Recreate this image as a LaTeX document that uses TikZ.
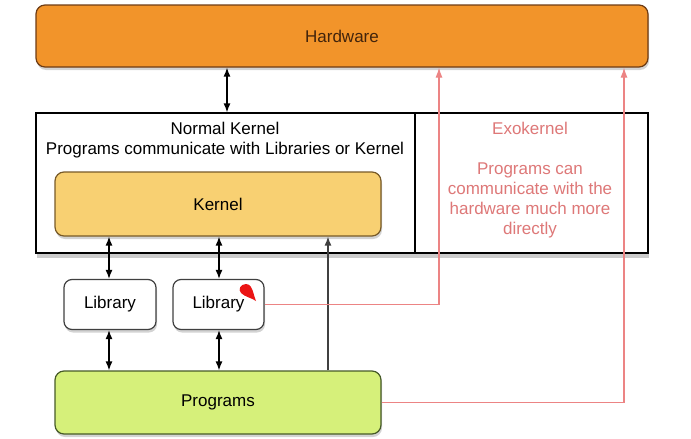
\documentclass[tikz,border=0pt]{standalone}
\usepackage{fontspec}
\setmainfont{Liberation Sans}
\usetikzlibrary{arrows.meta,shadows}
\definecolor{hwfill}{RGB}{242,148,42}
\definecolor{hwline}{RGB}{110,60,20}
\definecolor{kfill}{RGB}{248,208,114}
\definecolor{kline}{RGB}{120,90,40}
\definecolor{pfill}{RGB}{214,240,122}
\definecolor{pline}{RGB}{70,90,40}
\definecolor{exo}{RGB}{236,132,132}
\definecolor{exotext}{RGB}{222,120,120}
\definecolor{blob}{RGB}{235,20,20}
\begin{document}
\begin{tikzpicture}[x=1pt,y=-1pt,
  font=\fontsize{17}{20}\selectfont,
  box/.style={draw,line width=1.2pt,rounded corners=9pt,
    drop shadow={opacity=0.35,shadow xshift=1pt,shadow yshift=-3pt}},
  dbl/.style={{Latex[length=9pt,width=7pt]}-{Latex[length=9pt,width=7pt]},line width=1.3pt},
  sgl/.style={-{Latex[length=9pt,width=7pt]},line width=1.3pt,draw=black!75},
  exoarrow/.style={-{Latex[length=10pt,width=7pt]},draw=exo,line width=1.1pt}]
\useasboundingbox (0,0) rectangle (691,439);
% big box
\node[draw,line width=1.2pt,minimum width=612pt,minimum height=140pt,fill=white,
  drop shadow={opacity=0.4,shadow xshift=1pt,shadow yshift=-5pt}] (big) at (342,183) {};
\coordinate (dtop) at (415,113);
\coordinate (dbot) at (415,253);
\draw[line width=1.2pt] (dtop) -- (dbot);
\node[align=center] (nk) at (225,140) {Normal Kernel\\Programs communicate with Libraries or Kernel};
\node[align=center,text=exotext] (ex) at (530,180) {Exokernel\\[20pt]Programs can\\communicate with the\\hardware much more\\directly};
% hardware
\node[box,fill=hwfill,draw=hwline,minimum width=612pt,minimum height=62pt] (hw) at (342,36) {\textcolor{hwline!60!black}{Hardware}};
% kernel
\node[box,fill=kfill,draw=kline,minimum width=326pt,minimum height=64pt] (k) at (218,204) {Kernel};
% libraries
\node[box,fill=white,draw=black!75,rounded corners=8pt,minimum width=92pt,minimum height=50pt] (l1) at (110,304.5) {Library};
\node[box,fill=white,draw=black!75,rounded corners=8pt,minimum width=91pt,minimum height=50pt] (l2) at (218.5,304.5) {Library};
% programs
\node[box,fill=pfill,draw=pline,minimum width=326pt,minimum height=63pt] (p) at (218,402.5) {Programs};
% red blob
\fill[blob] (246,284) .. controls (240,284) and (238,290) .. (241,293)
  .. controls (245,297) and (252,298) .. (256,301)
  .. controls (254,296) and (253,290) .. (251,287)
  .. controls (250,285) and (248,284) .. (246,284) -- cycle;
% black arrows
\draw[dbl] (hw.south -| 227,0) -- (big.north -| 227,0);
\draw[dbl] (k.south -| 109,0) -- (l1.north -| 109,0);
\draw[dbl] (k.south -| 219,0) -- (l2.north -| 219,0);
\draw[dbl] (l1.south -| 109,0) -- (p.north -| 109,0);
\draw[dbl] (l2.south -| 219,0) -- (p.north -| 219,0);
\draw[sgl] (p.north -| 328,0) -- (k.south -| 328,0);
% red connectors
\draw[exoarrow] (l2.east) -| (hw.south -| 439,0);
\draw[exoarrow] (p.east) -| (hw.south -| 624,0);
\end{tikzpicture}
\end{document}
